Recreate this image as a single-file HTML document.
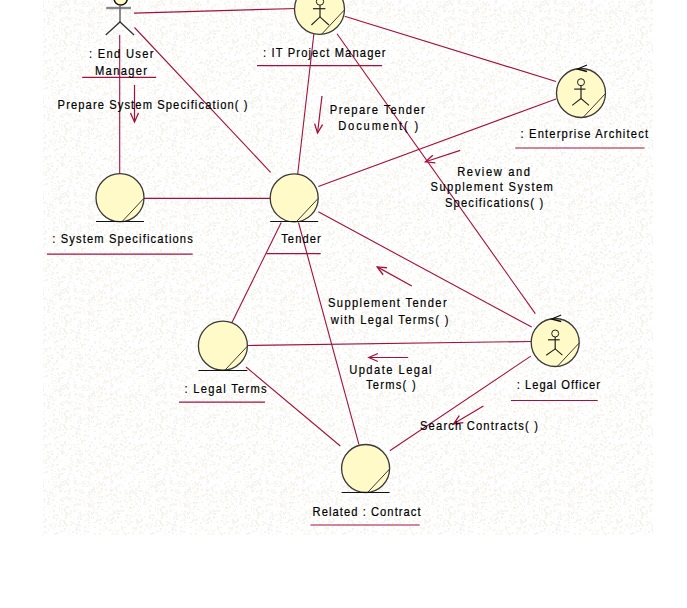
<!DOCTYPE html>
<html><head><meta charset="utf-8"><style>
html,body{margin:0;padding:0;background:#fff;width:687px;height:608px;overflow:hidden}
svg{position:absolute;left:0;top:0}
text{font-family:"Liberation Sans",sans-serif;font-size:13px;fill:#000;stroke:#000;stroke-width:0.2px}
</style></head><body>
<svg width="687" height="608" viewBox="0 0 687 608">
<defs><pattern id="nz" width="96" height="96" patternUnits="userSpaceOnUse"><path fill="#F2F2F0" d="M31 83h1v1h-1zM20 9h1v2h-1zM16 0h1v1h-1zM21 21h2v2h-2zM69 86h2v1h-2zM88 25h2v2h-2zM45 39h2v2h-2zM61 60h2v1h-2zM23 79h1v1h-1zM87 40h2v1h-2zM19 7h2v2h-2zM37 60h2v1h-2zM66 18h2v1h-2zM91 5h2v1h-2zM6 17h1v2h-1zM26 30h2v2h-2zM44 51h2v2h-2zM38 63h2v2h-2zM40 39h2v2h-2zM61 3h1v2h-1zM37 5h1v2h-1zM61 68h2v2h-2zM77 60h2v1h-2zM44 46h2v1h-2zM13 87h2v1h-2zM68 19h2v1h-2zM93 29h2v1h-2zM84 3h2v2h-2zM51 89h2v1h-2zM17 37h2v2h-2zM23 78h1v2h-1zM45 83h2v1h-2zM70 79h1v2h-1zM43 10h2v1h-2zM15 64h2v2h-2zM49 59h2v2h-2zM67 3h2v2h-2zM14 10h2v2h-2zM23 50h1v1h-1zM4 23h1v1h-1zM62 61h2v2h-2zM59 59h1v1h-1zM60 19h2v2h-2zM35 20h2v1h-2zM58 86h1v1h-1zM8 93h2v2h-2zM30 22h2v1h-2zM82 77h2v2h-2zM59 7h2v2h-2zM5 4h2v2h-2zM91 9h1v2h-1zM6 63h2v1h-2zM29 10h2v1h-2zM88 57h1v1h-1zM16 73h1v2h-1zM16 41h1v2h-1zM4 8h2v1h-2zM15 42h2v2h-2zM87 6h1v1h-1zM59 27h1v2h-1zM38 71h2v2h-2zM63 51h2v1h-2zM30 62h2v1h-2zM21 50h1v2h-1zM66 26h2v2h-2zM1 35h2v1h-2zM78 41h2v2h-2zM88 70h2v2h-2zM53 35h1v2h-1zM88 42h2v1h-2zM24 59h2v2h-2zM89 78h2v1h-2zM24 86h1v1h-1zM47 22h2v1h-2zM51 69h2v2h-2zM9 62h2v2h-2zM52 43h1v2h-1zM92 9h1v2h-1zM66 10h1v1h-1zM76 87h2v1h-2zM84 82h2v1h-2zM48 1h1v2h-1zM17 60h2v2h-2zM9 9h2v2h-2zM63 40h2v2h-2zM3 1h1v2h-1zM38 47h2v2h-2zM1 93h2v1h-2zM61 85h2v1h-2zM91 78h1v2h-1zM58 5h1v1h-1zM6 94h2v1h-2zM83 5h1v2h-1zM8 92h2v1h-2zM33 58h2v2h-2zM40 78h1v2h-1zM79 66h2v2h-2zM64 57h2v2h-2zM80 90h2v1h-2zM88 14h2v1h-2zM80 36h2v1h-2zM33 12h2v2h-2zM52 8h1v2h-1zM23 5h1v2h-1zM9 59h2v1h-2zM31 14h2v1h-2zM60 51h2v1h-2zM59 86h1v2h-1zM6 69h2v1h-2zM53 37h2v2h-2zM37 83h1v1h-1zM15 94h1v1h-1zM93 7h2v1h-2zM54 7h2v1h-2zM60 61h2v1h-2zM78 77h2v1h-2zM83 56h2v1h-2zM24 93h2v2h-2zM14 49h2v1h-2zM88 87h2v1h-2zM18 80h2v1h-2zM69 19h2v2h-2zM61 28h1v2h-1zM10 93h2v2h-2zM80 54h1v2h-1zM13 75h2v1h-2zM60 40h2v1h-2zM35 23h1v2h-1zM87 51h2v2h-2zM79 19h2v2h-2zM36 48h1v1h-1zM44 20h1v1h-1zM28 47h2v1h-2zM62 1h2v2h-2zM18 15h2v1h-2zM40 47h1v2h-1zM27 74h2v2h-2zM87 1h2v1h-2zM0 72h2v1h-2zM93 17h1v1h-1zM77 75h2v2h-2zM56 80h2v2h-2zM60 66h1v2h-1zM77 82h2v1h-2zM13 78h1v2h-1zM8 61h2v2h-2zM7 50h2v1h-2zM56 80h2v1h-2zM41 90h2v1h-2zM83 1h2v1h-2zM62 89h2v1h-2zM5 8h2v2h-2zM71 41h1v2h-1zM33 27h2v2h-2zM15 68h2v2h-2zM67 91h2v1h-2zM0 40h2v2h-2zM9 31h2v1h-2zM29 40h2v2h-2zM29 62h2v2h-2zM55 5h2v2h-2zM30 87h1v2h-1zM41 85h2v1h-2zM3 43h1v1h-1zM76 24h1v2h-1zM91 33h2v2h-2zM71 83h1v2h-1zM76 47h2v2h-2zM73 90h1v2h-1zM93 8h2v2h-2zM80 76h2v1h-2zM49 14h1v2h-1zM74 63h2v1h-2zM4 49h1v2h-1zM44 60h2v2h-2zM92 3h2v1h-2zM85 92h2v2h-2zM42 41h2v2h-2zM43 34h2v1h-2zM41 16h2v1h-2zM25 56h2v1h-2zM2 72h2v1h-2zM25 60h2v2h-2zM46 72h2v1h-2zM75 49h2v2h-2zM87 34h2v2h-2zM1 28h1v2h-1zM25 46h2v2h-2zM55 92h1v2h-1zM18 14h2v1h-2zM7 56h1v2h-1zM43 53h1v2h-1zM47 71h2v1h-2zM74 93h2v2h-2zM31 80h1v1h-1zM44 10h2v2h-2zM85 50h1v2h-1zM71 71h2v1h-2zM69 83h2v1h-2zM1 38h1v2h-1zM19 71h2v2h-2zM81 57h2v1h-2zM52 67h1v1h-1zM94 47h2v1h-2zM76 78h2v1h-2zM81 56h2v1h-2zM91 58h2v1h-2zM69 89h1v2h-1zM8 18h1v1h-1zM87 33h2v2h-2zM41 31h2v1h-2zM75 9h2v2h-2zM59 10h2v2h-2zM42 55h2v1h-2zM44 41h2v1h-2zM81 69h2v2h-2zM46 87h2v2h-2zM49 73h2v1h-2zM53 30h2v2h-2zM31 72h2v2h-2zM75 43h1v2h-1zM19 66h2v2h-2zM21 36h2v2h-2zM3 22h2v1h-2zM52 5h2v1h-2zM2 26h1v1h-1zM93 37h1v2h-1zM16 37h1v2h-1zM64 88h1v1h-1zM80 38h2v2h-2zM11 92h1v1h-1zM62 34h1v1h-1zM34 31h2v1h-2zM15 0h2v2h-2zM79 69h2v1h-2zM45 78h2v2h-2zM77 24h2v2h-2zM62 84h2v2h-2zM51 12h2v2h-2zM42 5h2v2h-2zM95 42h2v1h-2zM14 4h1v1h-1zM60 10h2v2h-2zM66 32h2v2h-2zM17 14h2v2h-2zM39 13h2v2h-2zM67 91h2v1h-2zM89 3h1v2h-1zM49 11h2v2h-2zM44 46h2v2h-2zM29 12h2v2h-2zM8 43h2v1h-2zM38 57h1v1h-1zM93 25h1v1h-1zM4 39h1v1h-1zM42 70h2v1h-2zM95 65h2v1h-2zM89 31h2v1h-2zM47 15h1v2h-1zM28 19h1v1h-1zM69 64h2v2h-2zM36 13h2v1h-2zM19 91h2v2h-2zM79 23h2v2h-2zM43 29h1v2h-1zM80 12h2v1h-2zM66 44h2v2h-2zM15 92h1v2h-1zM51 82h1v2h-1zM95 85h2v2h-2zM68 13h1v2h-1zM22 33h2v2h-2zM8 5h2v1h-2zM65 37h2v2h-2zM58 92h2v2h-2zM91 32h1v2h-1zM65 1h1v2h-1zM47 74h2v2h-2zM64 48h2v2h-2zM78 33h2v1h-2zM94 53h2v1h-2zM64 43h2v2h-2zM16 9h2v2h-2zM20 6h1v2h-1zM78 44h2v2h-2zM93 80h2v1h-2zM14 88h1v2h-1zM57 57h1v2h-1zM64 59h2v1h-2zM62 24h2v1h-2zM7 77h2v1h-2zM33 38h1v2h-1zM65 71h2v1h-2zM82 68h1v2h-1zM5 38h1v1h-1zM89 23h2v1h-2zM4 3h2v1h-2zM3 79h2v2h-2zM67 94h2v2h-2zM80 73h1v1h-1zM20 33h2v1h-2zM84 46h2v1h-2zM17 33h1v1h-1zM12 71h1v2h-1zM2 13h1v1h-1zM68 18h2v1h-2zM72 17h1v1h-1zM13 49h2v2h-2zM68 10h2v2h-2zM58 46h2v1h-2zM30 24h1v1h-1zM56 72h2v2h-2zM64 42h2v2h-2zM3 19h2v1h-2zM91 72h1v1h-1zM1 22h2v2h-2zM50 67h2v1h-2zM75 2h2v1h-2zM89 91h1v2h-1zM82 88h1v1h-1zM36 86h1v1h-1zM22 63h2v1h-2zM8 4h2v1h-2zM74 24h2v1h-2zM82 10h1v2h-1zM89 13h2v1h-2zM3 39h2v2h-2zM39 85h2v1h-2zM65 34h2v1h-2zM89 61h2v2h-2zM57 64h1v2h-1zM21 80h2v1h-2zM84 18h1v1h-1zM77 37h2v2h-2zM54 26h2v1h-2zM56 52h2v2h-2zM16 91h1v1h-1zM5 29h2v1h-2zM40 10h2v1h-2zM93 14h2v1h-2zM69 34h2v1h-2zM88 23h2v2h-2zM59 30h1v1h-1zM59 42h2v1h-2zM18 88h1v1h-1zM6 2h2v1h-2zM62 45h2v1h-2zM57 64h2v1h-2zM14 91h2v1h-2zM69 11h1v2h-1zM72 51h2v2h-2zM70 74h1v2h-1zM24 71h2v2h-2zM37 66h1v1h-1zM75 69h2v2h-2zM14 9h2v1h-2zM36 1h2v1h-2zM17 62h2v1h-2zM14 39h2v2h-2zM17 31h2v2h-2zM75 82h2v1h-2zM41 78h1v2h-1z"/><path fill="#FAF8EC" d="M94 83h2v1h-2zM27 52h2v1h-2zM46 53h1v1h-1zM86 90h2v1h-2zM32 2h2v2h-2zM2 70h2v2h-2zM32 59h1v2h-1zM4 55h1v1h-1zM65 78h2v1h-2zM35 89h2v1h-2zM80 19h2v2h-2zM53 18h1v1h-1zM52 13h1v2h-1zM58 79h1v2h-1zM88 93h2v2h-2zM48 68h1v2h-1zM70 64h2v1h-2zM88 75h2v1h-2zM46 71h2v2h-2zM33 88h2v2h-2zM83 22h2v1h-2zM70 32h2v2h-2zM36 64h2v2h-2zM35 82h2v2h-2zM22 88h2v2h-2zM74 66h2v2h-2zM61 24h2v1h-2zM65 43h2v2h-2zM16 53h2v2h-2zM61 25h1v1h-1zM84 0h2v1h-2zM72 78h2v1h-2zM80 72h2v2h-2zM60 4h1v2h-1zM19 92h2v2h-2zM37 93h2v1h-2zM54 54h2v2h-2zM60 50h2v1h-2zM55 74h2v2h-2zM18 21h2v2h-2zM13 84h2v1h-2zM51 79h1v1h-1zM11 40h2v2h-2zM17 89h2v2h-2zM30 37h2v2h-2zM54 60h2v2h-2zM83 20h1v2h-1zM61 4h2v2h-2zM7 88h1v2h-1zM19 15h2v2h-2zM39 23h2v2h-2zM80 16h2v1h-2zM39 61h1v2h-1zM40 16h1v1h-1zM85 31h2v1h-2zM89 31h1v1h-1zM47 12h1v2h-1zM17 33h2v2h-2zM15 6h1v2h-1zM54 16h2v1h-2zM90 18h2v2h-2zM59 76h2v1h-2zM6 85h1v2h-1zM76 0h1v1h-1zM73 30h2v2h-2zM1 13h2v1h-2zM3 11h2v2h-2zM4 11h2v2h-2zM88 94h2v1h-2zM66 11h1v1h-1zM12 27h2v2h-2zM72 80h2v2h-2zM29 54h2v1h-2zM53 3h1v1h-1zM72 71h2v1h-2zM62 17h2v1h-2zM70 74h2v1h-2zM13 8h1v1h-1zM14 61h2v1h-2zM89 11h2v1h-2zM49 31h1v2h-1zM16 10h1v1h-1zM2 2h2v2h-2zM56 1h2v1h-2zM3 53h2v2h-2zM38 24h2v1h-2zM27 50h2v1h-2zM85 81h1v1h-1zM34 16h2v2h-2zM27 19h2v1h-2zM14 13h2v2h-2zM64 30h1v2h-1zM2 71h2v2h-2zM67 35h2v2h-2zM47 52h1v2h-1zM43 18h2v2h-2zM35 61h1v1h-1zM32 3h2v2h-2zM87 34h1v2h-1zM41 66h2v2h-2zM48 19h2v1h-2zM19 45h1v2h-1zM21 53h2v2h-2zM37 78h1v1h-1zM54 45h2v2h-2zM39 8h2v2h-2zM59 53h1v1h-1zM13 87h2v2h-2zM83 84h2v2h-2zM14 34h2v2h-2zM5 26h2v1h-2zM84 81h1v1h-1zM91 67h1v1h-1zM6 82h2v2h-2zM70 73h2v2h-2zM21 95h2v2h-2zM76 25h2v1h-2zM36 53h2v2h-2zM63 83h1v2h-1zM47 5h1v1h-1zM8 95h2v2h-2zM74 39h1v1h-1zM24 13h1v2h-1zM47 11h1v1h-1zM0 4h2v1h-2zM16 51h2v1h-2zM87 5h1v1h-1zM81 12h2v2h-2zM95 0h2v2h-2zM92 10h2v1h-2zM0 7h2v2h-2zM68 52h1v2h-1zM71 56h1v1h-1zM87 81h1v1h-1zM65 60h1v2h-1zM9 86h2v1h-2zM11 75h2v1h-2zM37 52h1v1h-1zM45 87h1v2h-1zM57 89h1v1h-1zM64 11h2v2h-2zM84 25h2v2h-2zM15 16h1v2h-1zM75 13h1v1h-1zM10 37h2v2h-2zM55 84h1v1h-1zM88 65h2v2h-2zM79 59h1v1h-1zM14 49h2v2h-2zM16 18h2v2h-2zM26 5h1v2h-1zM14 94h2v2h-2zM32 52h1v2h-1zM7 93h2v1h-2zM85 73h1v2h-1zM4 88h2v1h-2zM30 26h2v1h-2zM37 69h1v1h-1zM91 20h2v2h-2zM29 35h2v2h-2zM78 86h2v1h-2zM78 79h2v1h-2zM92 22h2v2h-2zM63 61h1v2h-1zM40 15h1v1h-1zM36 30h2v1h-2zM13 80h2v2h-2zM18 85h1v1h-1zM38 18h2v1h-2zM54 49h1v1h-1zM38 35h1v2h-1zM66 0h2v2h-2zM3 3h1v2h-1zM85 22h1v1h-1zM66 75h1v1h-1zM17 56h1v2h-1zM14 59h2v1h-2zM65 35h2v2h-2zM87 66h1v2h-1zM52 47h2v2h-2zM92 14h2v1h-2zM28 50h1v1h-1zM40 29h2v1h-2zM42 35h2v2h-2zM21 29h1v2h-1zM28 11h2v2h-2zM21 60h1v2h-1zM32 3h1v2h-1zM23 88h2v2h-2zM20 17h2v2h-2zM79 50h2v2h-2zM52 82h2v1h-2zM17 63h2v1h-2zM27 85h2v1h-2zM61 62h2v1h-2zM65 18h1v1h-1zM0 86h2v2h-2zM59 3h2v1h-2zM18 49h2v1h-2zM68 13h2v2h-2zM42 7h1v2h-1zM66 16h2v2h-2zM59 22h2v1h-2zM84 54h1v1h-1zM73 41h2v1h-2zM74 62h1v2h-1zM5 9h2v2h-2zM10 24h1v1h-1zM48 36h2v2h-2zM73 47h1v1h-1zM48 20h2v2h-2zM56 63h1v2h-1zM87 22h2v2h-2zM80 87h2v2h-2zM29 87h2v2h-2zM62 8h2v2h-2zM62 67h2v1h-2zM68 33h2v2h-2zM42 40h1v1h-1zM15 18h2v2h-2zM84 4h2v1h-2zM88 2h2v2h-2zM2 5h2v2h-2zM68 82h2v2h-2zM33 17h2v2h-2zM21 30h2v2h-2zM80 34h2v2h-2zM25 42h1v2h-1zM31 80h2v1h-2zM17 81h2v1h-2zM55 59h1v1h-1zM11 14h1v2h-1zM37 27h1v1h-1zM24 30h2v1h-2zM7 45h2v2h-2zM38 47h2v1h-2zM61 32h2v2h-2zM49 24h2v1h-2zM46 75h2v2h-2zM24 41h2v1h-2zM51 26h2v1h-2zM74 3h2v2h-2zM74 93h2v1h-2zM32 22h1v1h-1zM78 69h2v1h-2zM48 51h1v1h-1zM93 77h2v2h-2zM32 43h2v2h-2zM70 36h2v2h-2zM51 23h2v1h-2zM89 21h2v1h-2zM82 4h2v1h-2zM46 10h1v1h-1zM21 38h2v1h-2zM88 30h1v2h-1zM76 29h2v1h-2zM35 72h2v1h-2zM0 88h2v2h-2zM6 37h2v1h-2zM59 57h2v1h-2zM88 18h1v1h-1zM91 5h1v1h-1zM0 15h1v2h-1zM31 42h1v2h-1zM87 5h2v1h-2zM37 50h2v2h-2zM9 8h1v2h-1zM93 36h1v1h-1zM41 72h2v2h-2zM61 64h1v2h-1zM92 79h2v1h-2zM56 3h1v1h-1zM49 94h1v1h-1zM24 13h2v1h-2zM95 83h1v1h-1zM73 60h2v2h-2zM44 38h2v1h-2zM42 78h2v2h-2zM69 8h2v2h-2zM18 40h2v1h-2zM91 76h2v1h-2zM19 89h2v1h-2zM10 49h2v1h-2zM87 18h2v1h-2zM77 54h1v1h-1zM35 27h2v2h-2zM56 37h1v2h-1zM19 41h2v2h-2zM32 30h2v1h-2zM36 41h2v1h-2zM25 26h2v2h-2zM89 62h1v2h-1zM73 2h2v1h-2zM2 16h1v2h-1zM77 56h2v1h-2zM95 46h1v1h-1zM11 82h2v1h-2zM69 41h2v1h-2zM48 0h1v1h-1zM44 95h2v2h-2zM14 80h2v1h-2zM31 13h1v1h-1zM7 94h2v2h-2zM92 32h1v2h-1zM21 66h2v2h-2zM33 81h2v1h-2zM25 37h1v1h-1zM13 82h2v2h-2zM89 69h2v2h-2zM7 36h1v2h-1zM3 82h2v1h-2zM29 15h1v2h-1zM52 15h2v2h-2zM12 14h2v2h-2zM10 38h2v2h-2zM78 63h1v2h-1zM28 40h2v1h-2zM38 92h1v1h-1zM15 34h2v2h-2zM20 10h2v2h-2zM73 22h2v1h-2zM9 14h1v2h-1zM71 24h1v1h-1zM6 16h2v1h-2zM95 53h2v2h-2zM57 84h2v2h-2zM19 32h2v1h-2zM33 83h1v1h-1zM52 44h1v1h-1zM35 63h1v1h-1zM80 83h1v1h-1zM14 10h1v1h-1zM40 66h1v2h-1zM88 65h2v1h-2zM70 17h2v2h-2zM24 20h2v2h-2zM80 9h2v2h-2zM49 44h2v2h-2zM54 20h1v2h-1zM93 24h1v1h-1zM47 74h2v1h-2zM54 9h2v1h-2zM53 76h2v2h-2zM83 24h1v2h-1zM16 23h2v2h-2zM63 68h2v2h-2zM35 41h2v2h-2zM55 47h1v1h-1zM89 16h2v1h-2zM53 95h2v2h-2zM95 22h2v2h-2zM84 40h2v2h-2zM69 55h1v1h-1zM52 95h1v2h-1zM75 78h1v1h-1zM12 62h2v1h-2zM94 32h1v2h-1zM33 38h2v1h-2zM70 89h2v1h-2zM0 84h2v2h-2zM53 1h2v2h-2zM43 3h1v1h-1zM2 12h2v2h-2z"/><path fill="#F6F5F0" d="M79 32h2v2h-2zM47 60h1v2h-1zM13 73h1v1h-1zM8 42h2v1h-2zM74 1h2v1h-2zM59 44h2v2h-2zM20 92h1v1h-1zM68 51h1v1h-1zM76 44h2v2h-2zM42 26h1v1h-1zM23 11h2v2h-2zM46 61h2v1h-2zM85 93h2v1h-2zM79 70h2v2h-2zM3 25h1v2h-1zM83 23h1v1h-1zM59 44h2v1h-2zM88 70h2v1h-2zM78 38h1v2h-1zM18 20h2v2h-2zM28 63h2v2h-2zM48 49h1v2h-1zM16 38h2v2h-2zM0 32h2v2h-2zM59 8h2v1h-2zM15 28h2v1h-2zM8 79h1v1h-1zM7 73h2v1h-2zM89 37h1v2h-1zM70 30h2v2h-2zM17 30h2v2h-2zM49 22h1v1h-1zM19 54h2v1h-2zM48 17h2v2h-2zM37 80h2v2h-2zM4 75h2v1h-2zM25 91h1v1h-1zM10 79h2v2h-2zM60 6h2v1h-2zM32 52h2v2h-2zM6 4h1v1h-1zM65 81h2v1h-2zM69 20h2v1h-2zM27 79h1v2h-1zM45 62h2v2h-2zM31 89h1v2h-1zM48 71h1v2h-1zM88 83h1v1h-1zM54 34h1v2h-1zM33 78h1v1h-1zM45 1h1v1h-1zM12 34h2v1h-2zM46 45h1v1h-1zM41 61h2v2h-2zM79 11h1v2h-1zM2 40h2v1h-2zM39 65h2v2h-2zM90 88h2v2h-2zM88 71h2v1h-2zM18 53h2v1h-2zM69 54h2v1h-2zM49 48h1v1h-1zM79 9h1v1h-1zM52 23h1v1h-1zM24 41h2v1h-2zM42 19h2v1h-2zM56 94h2v1h-2zM15 76h2v1h-2zM0 63h2v2h-2zM48 18h2v2h-2zM28 53h1v2h-1zM70 61h2v1h-2zM20 50h2v2h-2zM52 19h1v1h-1zM59 30h1v2h-1zM72 17h2v1h-2zM1 27h2v1h-2zM13 83h1v2h-1zM38 21h2v1h-2zM57 7h2v1h-2zM79 49h1v2h-1zM8 63h1v1h-1zM21 80h1v2h-1zM56 22h2v1h-2zM58 5h2v2h-2zM52 92h2v2h-2zM73 28h2v1h-2zM8 91h2v2h-2zM67 69h2v1h-2zM25 17h2v1h-2zM18 55h2v2h-2zM68 27h2v1h-2zM69 49h1v2h-1zM3 72h2v2h-2zM29 17h1v1h-1zM11 92h2v2h-2zM38 74h2v2h-2zM3 43h2v2h-2zM62 66h2v2h-2zM42 7h2v1h-2zM62 20h2v2h-2zM93 67h2v2h-2zM88 78h1v1h-1zM64 30h2v2h-2zM13 49h2v1h-2zM35 1h1v1h-1zM71 76h2v2h-2zM89 78h2v2h-2zM89 43h1v1h-1zM3 35h2v1h-2zM54 53h2v2h-2zM24 25h2v2h-2zM33 73h2v2h-2zM37 13h2v1h-2zM41 44h1v2h-1zM86 15h2v1h-2zM19 54h2v2h-2zM12 63h2v1h-2zM39 33h2v2h-2zM4 39h2v2h-2zM18 93h2v1h-2zM58 37h1v2h-1zM56 34h2v2h-2zM84 51h1v2h-1zM85 64h1v1h-1zM39 12h2v2h-2zM63 4h2v2h-2zM89 15h1v1h-1zM39 15h1v1h-1zM8 50h1v1h-1zM89 95h1v2h-1zM50 45h2v2h-2zM76 23h2v2h-2zM83 12h2v2h-2zM71 21h2v1h-2zM39 48h2v2h-2zM57 70h2v1h-2zM10 81h2v2h-2zM14 79h1v1h-1zM51 85h2v2h-2zM64 84h2v2h-2zM87 22h2v2h-2zM90 90h2v1h-2zM29 53h2v2h-2zM10 15h2v2h-2zM15 2h2v2h-2zM85 66h2v2h-2zM28 20h2v2h-2zM63 5h1v1h-1zM32 35h2v1h-2zM30 56h2v1h-2zM41 23h1v2h-1zM92 80h1v2h-1zM94 60h1v2h-1zM74 30h2v2h-2zM24 86h2v2h-2zM66 46h1v1h-1zM1 86h2v2h-2zM34 10h2v2h-2zM28 57h2v2h-2zM44 21h1v2h-1zM52 28h2v1h-2zM94 54h2v2h-2zM38 11h2v1h-2zM42 64h2v2h-2zM34 82h2v1h-2zM65 2h2v2h-2zM87 86h1v1h-1zM89 26h2v2h-2zM36 84h2v2h-2zM13 10h2v1h-2zM67 95h2v1h-2zM95 0h1v1h-1zM77 85h1v2h-1zM17 70h2v2h-2zM77 63h1v1h-1zM52 80h2v1h-2zM45 75h2v2h-2zM9 87h1v1h-1zM55 44h2v1h-2zM47 24h1v1h-1zM87 39h2v1h-2zM52 75h2v1h-2zM63 63h1v2h-1zM9 86h2v1h-2zM67 5h2v1h-2zM60 1h2v1h-2zM44 14h1v1h-1zM24 22h1v1h-1zM84 47h2v1h-2zM74 0h2v2h-2zM58 90h2v2h-2zM10 76h2v2h-2zM32 16h2v1h-2zM79 9h1v2h-1zM49 77h1v2h-1zM20 30h2v2h-2zM52 80h2v2h-2zM80 31h1v1h-1zM37 26h2v2h-2zM9 74h1v2h-1zM3 85h2v2h-2zM85 6h2v1h-2zM67 26h2v2h-2zM25 48h2v2h-2zM73 25h2v2h-2zM75 18h2v2h-2zM64 28h2v2h-2zM23 4h2v1h-2zM39 82h1v1h-1zM3 44h1v1h-1zM20 90h2v2h-2zM76 50h1v2h-1zM18 76h2v1h-2zM82 77h2v1h-2zM35 35h2v2h-2zM55 74h1v1h-1zM70 44h2v2h-2zM15 2h1v1h-1zM70 31h2v1h-2zM54 25h2v1h-2zM79 78h2v2h-2zM33 65h2v2h-2zM81 58h2v2h-2zM88 35h2v2h-2zM90 37h2v1h-2zM5 16h2v2h-2zM14 19h1v2h-1zM76 81h2v1h-2zM25 81h2v1h-2zM81 91h2v2h-2zM69 60h1v1h-1zM84 60h2v1h-2zM43 73h1v1h-1zM49 72h1v1h-1zM54 87h2v1h-2zM19 73h1v1h-1zM93 10h2v1h-2zM47 23h2v2h-2zM32 35h2v1h-2zM16 24h2v2h-2zM17 10h1v1h-1zM3 59h2v1h-2zM62 70h1v1h-1zM21 18h2v1h-2zM33 19h2v2h-2zM59 89h2v2h-2zM90 24h2v2h-2zM8 5h2v1h-2zM51 95h1v2h-1zM87 52h2v1h-2zM37 64h2v1h-2zM79 35h1v2h-1zM79 45h2v2h-2zM42 18h2v1h-2zM33 41h2v1h-2zM22 4h2v2h-2zM3 16h2v1h-2zM71 63h1v1h-1zM51 43h2v1h-2zM61 39h1v1h-1zM5 59h2v1h-2zM36 11h2v2h-2zM27 93h2v1h-2zM64 11h2v2h-2zM34 16h2v1h-2zM42 1h2v2h-2zM94 6h1v2h-1zM14 42h2v2h-2zM70 85h2v2h-2zM78 3h1v1h-1zM89 32h1v1h-1zM14 60h2v2h-2zM88 30h1v1h-1zM73 7h2v1h-2zM12 64h2v1h-2zM44 26h1v2h-1zM4 78h2v2h-2zM90 25h2v1h-2zM93 90h2v1h-2zM5 68h2v2h-2zM77 15h2v1h-2zM56 57h2v1h-2zM48 73h2v2h-2zM15 64h2v1h-2zM35 9h2v1h-2zM88 11h2v2h-2zM26 79h1v2h-1zM20 59h1v2h-1zM50 12h2v2h-2zM3 52h1v2h-1zM77 66h2v2h-2zM34 15h1v2h-1zM48 81h1v2h-1zM20 77h2v2h-2zM91 73h2v1h-2zM45 69h1v1h-1zM55 90h2v1h-2zM69 81h1v1h-1zM17 15h1v1h-1zM66 60h1v2h-1zM55 14h2v1h-2zM38 95h2v1h-2zM33 6h2v2h-2zM68 60h1v1h-1zM77 4h2v1h-2zM40 42h2v2h-2zM19 69h2v1h-2zM21 70h1v2h-1zM22 81h1v1h-1zM22 84h2v1h-2zM30 34h2v2h-2zM28 66h1v2h-1zM74 10h2v2h-2zM17 37h2v2h-2zM14 13h1v1h-1zM9 47h2v2h-2zM65 32h1v2h-1zM12 36h1v1h-1zM90 58h1v1h-1zM6 29h2v1h-2zM91 78h2v1h-2zM77 49h2v1h-2zM47 67h2v2h-2zM88 16h1v2h-1zM92 25h2v2h-2zM69 0h1v2h-1zM80 69h2v2h-2zM35 10h2v1h-2zM63 17h2v2h-2zM61 89h2v2h-2zM81 2h2v2h-2zM5 22h2v1h-2zM91 11h2v2h-2zM95 29h1v1h-1zM61 67h1v1h-1zM72 42h2v2h-2zM68 81h1v2h-1zM25 65h2v2h-2zM95 78h1v2h-1zM27 72h2v2h-2zM40 40h2v2h-2zM93 42h2v1h-2zM85 56h1v2h-1zM83 34h2v2h-2zM9 21h2v2h-2zM52 19h2v2h-2zM23 30h2v2h-2zM43 76h2v2h-2zM91 37h1v2h-1zM88 45h1v2h-1zM54 43h1v1h-1zM78 64h2v1h-2zM56 39h1v2h-1zM42 41h1v1h-1zM62 95h1v1h-1zM3 57h2v1h-2zM64 0h2v2h-2zM28 0h2v1h-2zM94 11h2v2h-2zM43 88h2v1h-2zM59 94h1v1h-1zM45 8h1v1h-1zM76 52h2v2h-2zM34 25h1v2h-1zM11 14h2v1h-2zM93 31h2v2h-2zM77 23h1v1h-1zM30 77h2v1h-2zM84 75h2v1h-2zM36 47h2v2h-2zM92 26h2v2h-2zM0 3h1v1h-1zM91 90h2v1h-2zM62 29h1v2h-1z"/></pattern></defs>
<rect x="43" y="0" width="610" height="535" fill="#FFFFFF"/>
<rect x="43" y="0" width="610" height="535" fill="url(#nz)"/>
<line x1="134.0" y1="13.1" x2="297.0" y2="8.44" stroke="#A3103F" stroke-width="1.1" />
<line x1="119.7" y1="35" x2="119.7" y2="176" stroke="#A3103F" stroke-width="1.1" />
<line x1="134.5" y1="27.5" x2="270.6" y2="172.3" stroke="#A3103F" stroke-width="1.1" />
<line x1="314.03" y1="32.51" x2="297.47" y2="175.99" stroke="#A3103F" stroke-width="1.1" />
<line x1="344.6" y1="16.3" x2="556.0" y2="81.5" stroke="#A3103F" stroke-width="1.1" />
<line x1="337.0" y1="33.8" x2="535.3" y2="313.6" stroke="#A3103F" stroke-width="1.1" />
<line x1="140" y1="198.4" x2="273" y2="198.4" stroke="#A3103F" stroke-width="1.1" />
<line x1="318.3" y1="186.5" x2="556.0" y2="99.0" stroke="#A3103F" stroke-width="1.1" />
<line x1="318.3" y1="211.8" x2="531.7" y2="327.1" stroke="#A3103F" stroke-width="1.1" />
<line x1="281.2" y1="222.5" x2="231.96" y2="322.6" stroke="#A3103F" stroke-width="1.1" />
<line x1="298.5" y1="222.5" x2="358.96" y2="444.66" stroke="#A3103F" stroke-width="1.1" />
<line x1="246.8" y1="345.51" x2="531.8" y2="341.49" stroke="#A3103F" stroke-width="1.1" />
<line x1="246.0" y1="367.0" x2="340.3" y2="446.0" stroke="#A3103F" stroke-width="1.1" />
<line x1="530.8" y1="356.1" x2="389.8" y2="450.7" stroke="#A3103F" stroke-width="1.1" />
<circle cx="319.5" cy="9.3" r="25" fill="#FFFAC8" stroke="#3a3a3a" stroke-width="1.3"/>
<circle cx="320.0" cy="1.5000000000000009" r="3.7" fill="none" stroke="#222" stroke-width="1"/>
<line x1="313.0" y1="8.700000000000001" x2="325.4" y2="8.700000000000001" stroke="#222" stroke-width="1.2" />
<line x1="320.0" y1="5.200000000000001" x2="320.0" y2="16.9" stroke="#222" stroke-width="1.2" />
<polyline points="311.4,25.0 320.0,16.9 328.9,25.0" fill="none" stroke="#222" stroke-width="1.1"/>
<line x1="344.5" y1="9.8" x2="321.5" y2="34.3" stroke="#3a3a3a" stroke-width="1" />
<circle cx="581" cy="93" r="24.5" fill="#FFFAC8" stroke="#3a3a3a" stroke-width="1.3"/>
<circle cx="581" cy="82.2" r="3.5" fill="none" stroke="#222" stroke-width="1"/>
<line x1="574.2" y1="89.1" x2="585.5" y2="89.1" stroke="#222" stroke-width="1.2" />
<line x1="581" y1="85.7" x2="581" y2="98.5" stroke="#222" stroke-width="1.2" />
<polyline points="572.2,105.4 581,98.5 589,105.4" fill="none" stroke="#222" stroke-width="1.1"/>
<line x1="605.5" y1="93.5" x2="583" y2="117.5" stroke="#3a3a3a" stroke-width="1" />
<polyline points="587,65.0 577.5,69.0 587,71.5" fill="none" stroke="#111" stroke-width="1.3"/>
<circle cx="555.2" cy="342.5" r="24" fill="#FFFAC8" stroke="#3a3a3a" stroke-width="1.3"/>
<circle cx="555.2" cy="333.5" r="3.5" fill="none" stroke="#222" stroke-width="1"/>
<line x1="548.0" y1="339.8" x2="559.7" y2="339.8" stroke="#222" stroke-width="1.2" />
<line x1="555.2" y1="337.0" x2="555.2" y2="348.9" stroke="#222" stroke-width="1.2" />
<polyline points="546.2,355.2 555.2,348.9 562.4000000000001,355.2" fill="none" stroke="#222" stroke-width="1.1"/>
<line x1="579.2" y1="343.0" x2="557.2" y2="366.5" stroke="#3a3a3a" stroke-width="1" />
<polyline points="561.2,315.0 551.7,319.0 561.2,321.5" fill="none" stroke="#111" stroke-width="1.3"/>
<circle cx="120" cy="197.7" r="24" fill="#FFFAC8" stroke="#3a3a3a" stroke-width="1.3"/>
<line x1="144" y1="198.2" x2="122" y2="221.7" stroke="#3a3a3a" stroke-width="1" />
<line x1="96" y1="221.5" x2="144" y2="221.5" stroke="#111" stroke-width="1" />
<circle cx="294.2" cy="197.9" r="24" fill="#FFFAC8" stroke="#3a3a3a" stroke-width="1.3"/>
<line x1="318.2" y1="198.4" x2="296.2" y2="221.9" stroke="#3a3a3a" stroke-width="1" />
<line x1="270.2" y1="221.5" x2="318.2" y2="221.5" stroke="#111" stroke-width="1" />
<circle cx="222.9" cy="345.7" r="24.5" fill="#FFFAC8" stroke="#3a3a3a" stroke-width="1.3"/>
<line x1="247.4" y1="346.2" x2="224.9" y2="370.2" stroke="#3a3a3a" stroke-width="1" />
<line x1="198.4" y1="370.5" x2="247.4" y2="370.5" stroke="#111" stroke-width="1" />
<circle cx="365.6" cy="468.5" r="24" fill="#FFFAC8" stroke="#3a3a3a" stroke-width="1.3"/>
<line x1="389.6" y1="469.0" x2="367.6" y2="492.5" stroke="#3a3a3a" stroke-width="1" />
<line x1="341.6" y1="492.5" x2="389.6" y2="492.5" stroke="#111" stroke-width="1" />
<circle cx="120.7" cy="-1.5" r="6.6" fill="#FFFAC8" stroke="#111" stroke-width="1.5"/>
<line x1="106.2" y1="8" x2="131" y2="8" stroke="#888" stroke-width="2.4" />
<line x1="120" y1="6" x2="120" y2="22" stroke="#666" stroke-width="1.5" />
<polyline points="105.7,35 120,22 134.1,35" fill="none" stroke="#333" stroke-width="1.3"/>
<line x1="134.5" y1="84.9" x2="134.5" y2="122" stroke="#A3103F" stroke-width="1.2" />
<polyline points="130.50,113.00 134.50,122.00 138.50,113.00" fill="none" stroke="#A3103F" stroke-width="1.3"/>
<line x1="322" y1="96" x2="317.5" y2="133" stroke="#A3103F" stroke-width="1.2" />
<polyline points="314.62,123.58 317.50,133.00 322.56,124.55" fill="none" stroke="#A3103F" stroke-width="1.3"/>
<line x1="460.2" y1="150.4" x2="425.5" y2="161.8" stroke="#A3103F" stroke-width="1.2" />
<polyline points="432.80,155.19 425.50,161.80 435.30,162.79" fill="none" stroke="#A3103F" stroke-width="1.3"/>
<line x1="411.8" y1="286" x2="377.2" y2="266.9" stroke="#A3103F" stroke-width="1.2" />
<polyline points="387.01,267.75 377.20,266.90 383.15,274.75" fill="none" stroke="#A3103F" stroke-width="1.3"/>
<line x1="408.2" y1="357.5" x2="368.9" y2="357.5" stroke="#A3103F" stroke-width="1.2" />
<polyline points="377.90,353.50 368.90,357.50 377.90,361.50" fill="none" stroke="#A3103F" stroke-width="1.3"/>
<line x1="483.4" y1="405.9" x2="453.6" y2="423.8" stroke="#A3103F" stroke-width="1.2" />
<polyline points="459.26,415.74 453.60,423.80 463.37,422.59" fill="none" stroke="#A3103F" stroke-width="1.3"/>
<line x1="82.2" y1="77.3" x2="156.2" y2="77.3" stroke="#A3103F" stroke-width="1.2" />
<line x1="257" y1="65.6" x2="382.1" y2="65.6" stroke="#A3103F" stroke-width="1.2" />
<line x1="515.2" y1="148" x2="644.5" y2="148" stroke="#A3103F" stroke-width="1.2" />
<line x1="47" y1="254.1" x2="192.7" y2="254.1" stroke="#A3103F" stroke-width="1.2" />
<line x1="266.4" y1="253.7" x2="320.7" y2="253.7" stroke="#A3103F" stroke-width="1.2" />
<line x1="179" y1="402.2" x2="265" y2="402.2" stroke="#A3103F" stroke-width="1.2" />
<line x1="510.9" y1="400.5" x2="597.7" y2="400.5" stroke="#A3103F" stroke-width="1.2" />
<line x1="310.4" y1="525" x2="419.7" y2="525" stroke="#A3103F" stroke-width="1.2" />
<text transform="matrix(0.86,0,0,1,89.00,57.84)" x="0" y="0" textLength="74.90" lengthAdjust="spacing">: End User</text>
<text transform="matrix(0.86,0,0,1,95.00,75.14)" x="0" y="0" textLength="60.49" lengthAdjust="spacing">Manager</text>
<text transform="matrix(0.86,0,0,1,263.00,57.44)" x="0" y="0" textLength="142.56" lengthAdjust="spacing">: IT Project Manager</text>
<text transform="matrix(0.86,0,0,1,520.60,138.24)" x="0" y="0" textLength="148.15" lengthAdjust="spacing">: Enterprise Architect</text>
<text transform="matrix(0.86,0,0,1,57.60,109.04)" x="0" y="0" textLength="220.94" lengthAdjust="spacing">Prepare System Specification( )</text>
<text transform="matrix(0.86,0,0,1,329.80,114.24)" x="0" y="0" textLength="110.47" lengthAdjust="spacing">Prepare Tender</text>
<text transform="matrix(0.86,0,0,1,338.20,129.54)" x="0" y="0" textLength="93.04" lengthAdjust="spacing">Document( )</text>
<text transform="matrix(0.86,0,0,1,457.20,176.04)" x="0" y="0" textLength="84.66" lengthAdjust="spacing">Review and</text>
<text transform="matrix(0.86,0,0,1,430.60,190.94)" x="0" y="0" textLength="142.11" lengthAdjust="spacing">Supplement System</text>
<text transform="matrix(0.86,0,0,1,445.00,206.64)" x="0" y="0" textLength="114.20" lengthAdjust="spacing">Specifications( )</text>
<text transform="matrix(0.86,0,0,1,52.20,243.24)" x="0" y="0" textLength="163.51" lengthAdjust="spacing">: System Specifications</text>
<text transform="matrix(0.86,0,0,1,281.20,242.94)" x="0" y="0" textLength="46.06" lengthAdjust="spacing">Tender</text>
<text transform="matrix(0.86,0,0,1,328.00,307.44)" x="0" y="0" textLength="137.92" lengthAdjust="spacing">Supplement Tender</text>
<text transform="matrix(0.86,0,0,1,330.80,324.34)" x="0" y="0" textLength="136.76" lengthAdjust="spacing">with Legal Terms( )</text>
<text transform="matrix(0.86,0,0,1,349.20,373.64)" x="0" y="0" textLength="95.84" lengthAdjust="spacing">Update Legal</text>
<text transform="matrix(0.86,0,0,1,366.00,389.14)" x="0" y="0" textLength="57.69" lengthAdjust="spacing">Terms( )</text>
<text transform="matrix(0.86,0,0,1,184.60,392.94)" x="0" y="0" textLength="95.37" lengthAdjust="spacing">: Legal Terms</text>
<text transform="matrix(0.86,0,0,1,516.80,389.44)" x="0" y="0" textLength="96.75" lengthAdjust="spacing">: Legal Officer</text>
<text transform="matrix(0.86,0,0,1,420.00,430.44)" x="0" y="0" textLength="137.22" lengthAdjust="spacing">Search Contracts( )</text>
<text transform="matrix(0.86,0,0,1,312.60,515.94)" x="0" y="0" textLength="125.59" lengthAdjust="spacing">Related : Contract</text>
</svg>
</body></html>
